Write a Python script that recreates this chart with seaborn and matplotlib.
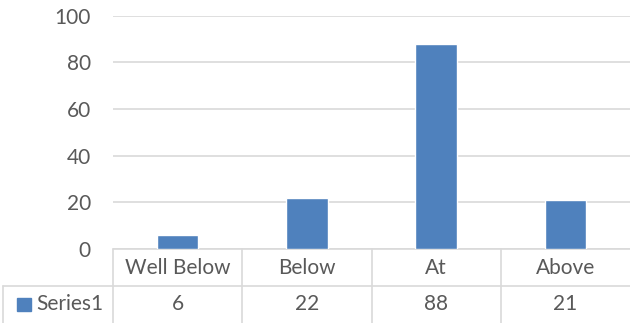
import seaborn as sns
import matplotlib.pyplot as plt
from matplotlib.patches import Rectangle

# chart data
categories = ['Well Below', 'Below', 'At', 'Above']
series_name = 'Series1'
values = [6, 22, 88, 21]
y_ticks = [0, 20, 40, 60, 80, 100]

bar_color = '#4F81BD'
grid_color = '#D9D9D9'
text_color = '#595959'
fs = 15

sns.set_style('white')
plt.rcParams['font.family'] = ['Lato', 'DejaVu Sans']

fig = plt.figure(figsize=(6.3, 3.23), dpi=100)
ax = fig.add_axes([113 / 630, 74 / 323, 517 / 630, 233.3 / 323])

sns.barplot(x=categories, y=values, color=bar_color, saturation=1, width=0.32, ax=ax, zorder=3)
ax.set_xlim(-0.5, len(categories) - 0.5)
ax.set_ylim(0, 100)
ax.set_yticks(y_ticks)
ax.yaxis.grid(True, color=grid_color, linewidth=1.2, zorder=0)
ax.tick_params(axis='y', length=0, pad=16, labelsize=fs, labelcolor=text_color)
ax.set_xticks([])
ax.set_xlabel('')
ax.set_ylabel('')
for s in ax.spines.values():
    s.set_visible(False)

# data table below the plot
trans = ax.get_xaxis_transform()
row1 = -37 / 233.3
row2 = -74 / 233.3
left = -110 / 517
lk = dict(color=grid_color, linewidth=1.2, clip_on=False)
ax.plot([-0.5, len(categories) - 0.5], [0, 0], transform=trans, **lk)
for i in range(len(categories)):
    ax.plot([i - 0.5, i - 0.5], [0, row2], transform=trans, **lk)
ax.plot([left, 1], [row1, row1], transform=ax.transAxes, **lk)
ax.plot([left, left], [row1, row2], transform=ax.transAxes, **lk)

for i, (cat, v) in enumerate(zip(categories, values)):
    ax.text(i, row1 / 2, cat, transform=trans, ha='center', va='center',
            fontsize=fs, color=text_color)
    ax.text(i, (row1 + row2) / 2, str(v), transform=trans, ha='center', va='center',
            fontsize=fs, color=text_color)

# legend key + series name
ax.add_patch(Rectangle((-96 / 517, (row1 + row2) / 2 - 6.5 / 233.3), 14 / 517, 13 / 233.3,
                       transform=ax.transAxes, color=bar_color, clip_on=False))
ax.text(-77 / 517, (row1 + row2) / 2, series_name, transform=ax.transAxes,
        ha='left', va='center', fontsize=fs, color=text_color)

fig.savefig('out.png', dpi=100)
